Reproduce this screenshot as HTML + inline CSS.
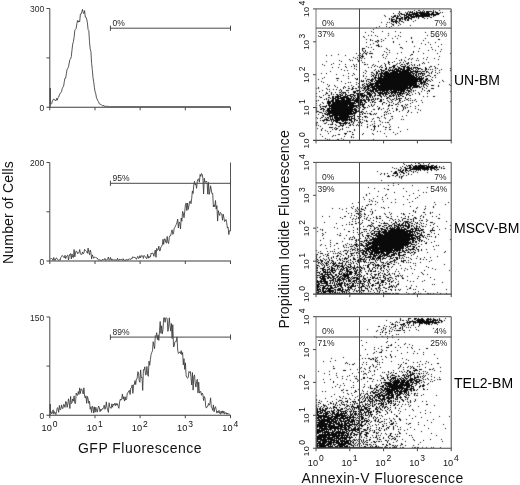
<!DOCTYPE html>
<html lang="en">
<head>
<meta charset="utf-8">
<title>GFP Fluorescence / Annexin-V Fluorescence</title>
<style>
html,body{margin:0;padding:0;background:#fff;}
body{width:520px;height:485px;overflow:hidden;}
svg{display:block;font-family:"Liberation Sans", Arial, Helvetica, sans-serif;}
.ax{stroke:#484848;stroke-width:1;fill:none;}
.axl{stroke:#777;stroke-width:1;fill:none;}
.cv{stroke:#383838;stroke-width:0.85;fill:none;stroke-linejoin:round;}
.gt{stroke:#484848;stroke-width:1;fill:none;}
.t9{font-size:8.5px;fill:#262626;}
.t8{font-size:8px;fill:#333;}
.tk{font-size:9.2px;fill:#111;}
.ts{font-size:8.5px;fill:#111;}
.big{font-size:14px;fill:#111;}
.lab{font-size:14px;fill:#000;}
.dots{stroke:#0a0a0a;stroke-width:1;fill:none;}
</style>
</head>
<body>
<svg width="520" height="485" viewBox="0 0 520 485">
<defs><filter id="soft" x="-2%" y="-2%" width="104%" height="104%" color-interpolation-filters="sRGB"><feConvolveMatrix order="3" kernelMatrix="0.017 0.088 0.017 0.088 0.58 0.088 0.017 0.088 0.017" divisor="1" edgeMode="none" preserveAlpha="false"/></filter></defs>
<rect width="520" height="485" fill="#fff"/>

<g id="hist1">
<path class="cv" d="M50.2 107.3L50.2 88L50.3 104L51 104.4L51.7 103.5L52.4 101.1L53.1 99.8L53.8 98.9L54.5 100L55.2 100.2L55.9 100.9L56.6 98.3L57.3 100.2L58 97.7L58.7 97.1L59.4 94.9L60.1 93.3L60.8 92.8L61.5 91.7L62.2 88.8L62.9 87.1L63.6 86.2L64.3 81.7L65 78L65.7 78L66.4 73.7L67.1 69.1L67.8 68.5L68.5 66.7L69.2 63L69.9 59.5L70.6 58.9L71.3 56.5L72 49.9L72.7 44.1L73.4 41.7L74.1 37.4L74.8 30.5L75.5 29.3L76.2 28.3L76.9 23.5L77.6 20.4L78.3 22.2L79 20.8L79.7 21.8L80.4 14.1L81.1 14.1L81.8 11.9L82.5 9.3L83.2 12.7L83.9 13.7L84.6 10.6L85.3 17.2L86 17.2L86.7 19.1L87.4 22.7L88.1 29.6L88.8 30.5L89.5 41.8L90.2 48.8L90.9 51.3L91.6 63.3L92.3 69.4L93 77.7L93.7 81.8L94.4 87.3L95.1 91.9L95.8 93.9L96.5 97.9L97.2 99.2L97.9 101L98.6 101.7L99.3 103.8L100 104.3L100.7 104.3L101.4 105L102.1 105.6L102.8 106.1L103.5 105L104.2 106.3L104.9 106.3L105.6 106.3L106.3 106.2L107 106.6L107.7 106.3L108.4 106.6L109.1 106.6L109.8 106.6L110.5 106.6L111.2 106.6L111.9 106.6L112.6 106.6L113.3 106.6L114 106.6L114.7 106.6L115.4 106.6L116.1 106.6L116.8 106.6L117.5 106.6L118.2 106.6L118.9 106.6L119.6 106.6L120.3 106.6L121 106.6L121.7 106.6L122.4 106.6L123.1 106.6L123.8 106.6L124.5 106.6L125.2 106.6L125.9 106.6L126.6 106.6L127.3 106.6L128 106.6L128.7 106.6L129.4 106.6L130.1 106.6L130.8 106.6L131.5 106.6L132.2 106.6L132.9 106.6L133.6 106.6L134.3 106.6L135 106.6L135.7 106.6L136.4 106.6L137.1 106.6L137.8 106.6L138.5 106.6L139.2 106.6L139.9 106.6L140.6 106.6L141.3 106.6L142 106.6L142.7 106.6L143.4 106.6L144.1 106.6L144.8 106.6L145.5 106.6L146.2 106.6L146.9 106.6L147.6 106.6L148.3 106.6L149 106.6L149.7 106.6L150.4 106.6L151.1 106.6L151.8 106.6L152.5 106.6L153.2 106.6L153.9 106.6L154.6 106.6L155.3 106.6L156 106.6L156.7 106.6L157.4 106.6L158.1 106.6L158.8 106.6L159.5 106.6L160.2 106.6L160.9 106.6L161.6 106.6L162.3 106.6L163 106.6L163.7 106.6L164.4 106.6L165.1 106.6L165.8 106.6L166.5 106.6L167.2 106.6L167.9 106.6L168.6 106.6L169.3 106.6L170 106.6L170.7 106.6L171.4 106.6L172.1 106.6L172.8 106.6L173.5 106.6L174.2 106.6L174.9 106.6L175.6 106.6L176.3 106.6L177 106.6L177.7 106.6L178.4 106.6L179.1 106.6L179.8 106.6L180.5 106.6L181.2 106.6L181.9 106.6L182.6 106.6L183.3 106.6L184 106.6L184.7 106.6L185.4 106.6L186.1 106.6L186.8 106.6L187.5 106.6L188.2 106.6L188.9 106.6L189.6 106.6L190.3 106.6L191 106.6L191.7 106.6L192.4 106.6L193.1 106.6L193.8 106.6L194.5 106.6L195.2 106.6L195.9 106.6L196.6 106.6L197.3 106.6L198 106.6L198.7 106.6L199.4 106.6L200.1 106.6L200.8 106.6L201.5 106.6L202.2 106.6L202.9 106.6L203.6 106.6L204.3 106.6L205 106.6L205.7 106.6L206.4 106.6L207.1 106.6L207.8 106.6L208.5 106.6L209.2 106.6L209.9 106.6L210.6 106.6L211.3 106.6L212 106.6L212.7 106.6L213.4 106.6L214.1 106.6L214.8 106.6L215.5 106.6L216.2 106.6L216.9 106.6L217.6 106.6L218.3 106.6L219 106.6L219.7 106.6L220.4 106.6L221.1 106.6L221.8 106.6L222.5 106.6L223.2 106.6L223.9 106.6L224.6 106.6L225.3 106.6L226 106.6L226.7 106.6L227.4 106.6L228.1 106.6L228.8 106.6L229.5 106.6L230.2 106.6"/>
<path class="ax" d="M46.5 8.5H49.8V107.3M46.5 57.9H49.8"/>
<path d="M46.5 107.3H231" stroke="#3c3c3c" stroke-width="1.05" fill="none"/>
<path class="ax" d="M49.8 107.3v3M95 107.3v3M140.1 107.3v3M185.3 107.3v3M230.5 107.3v3"/>
<text class="t9" x="44.3" y="12.1" text-anchor="end">300</text>
<text class="t9" x="44.3" y="110.9" text-anchor="end">0</text>
<path class="gt" d="M110.4 28.2H230.5M110.4 25.6v5.2M230.5 25.6v5.2"/>
<text class="t9" x="112.6" y="25.6">0%</text>
</g>
<g id="hist2">
<path class="cv" d="M50.3 258.8L51 258.8L51.7 258.5L52.4 258.9L53.1 260.3L53.8 257.5L54.5 260.2L55.2 260.3L55.9 258.4L56.6 257.9L57.3 259.3L58 260.1L58.7 260.3L59.4 259.6L60.1 260.3L60.8 257.5L61.5 256.8L62.2 255.4L62.9 256.1L63.6 257.1L64.3 257.9L65 255.3L65.7 258.6L66.4 256.8L67.1 255.6L67.8 255.1L68.5 260L69.2 256.3L69.9 254.1L70.6 253.7L71.3 258.9L72 253.9L72.7 257.2L73.4 257.5L74.1 249.5L74.8 256.9L75.5 253.2L76.2 250.9L76.9 251.7L77.6 253.8L78.3 252.9L79 252.7L79.7 249.5L80.4 254L81.1 254.1L81.8 254.6L82.5 252L83.2 253.8L83.9 253.2L84.6 249.3L85.3 250.3L86 251L86.7 251.7L87.4 253.3L88.1 248.1L88.8 252.2L89.5 254.7L90.2 250L90.9 252.3L91.6 258.9L92.3 254.8L93 256.5L93.7 258.3L94.4 257.2L95.1 256.9L95.8 257.6L96.5 257.9L97.2 258L97.9 259.1L98.6 260.3L99.3 259.7L100 260.3L100.7 260.2L101.4 260.3L102.1 260.1L102.8 259.2L103.5 259.9L104.2 259.8L104.9 258.4L105.6 260.3L106.3 260.1L107 259.9L107.7 259L108.4 257L109.1 260.3L109.8 259.5L110.5 257.4L111.2 260.2L111.9 258.9L112.6 260.2L113.3 259.5L114 260.3L114.7 259.8L115.4 259.8L116.1 259.7L116.8 260.3L117.5 258.3L118.2 260.3L118.9 260.3L119.6 259.1L120.3 259.6L121 259.1L121.7 259.6L122.4 260.3L123.1 258.7L123.8 260.1L124.5 260.3L125.2 260L125.9 260.3L126.6 259.1L127.3 259.9L128 260.3L128.7 259.1L129.4 258.9L130.1 259L130.8 259.6L131.5 258.2L132.2 258.6L132.9 256.7L133.6 257.5L134.3 257.5L135 257.2L135.7 258L136.4 259.3L137.1 257.8L137.8 256.3L138.5 258.4L139.2 258.1L139.9 255.6L140.6 257.8L141.3 255.7L142 256.2L142.7 255.9L143.4 258.4L144.1 255.4L144.8 256.2L145.5 256.9L146.2 258.3L146.9 258.5L147.6 254.3L148.3 258.2L149 256.2L149.7 257.6L150.4 256.9L151.1 253.2L151.8 254L152.5 252.8L153.2 253.8L153.9 256.3L154.6 252.2L155.3 250.1L156 257.3L156.7 248.4L157.4 250.3L158.1 249.9L158.8 246.1L159.5 250.8L160.2 250.8L160.9 246.9L161.6 246.4L162.3 244.9L163 239.3L163.7 244.4L164.4 238.9L165.1 238.9L165.8 242.3L166.5 243.2L167.2 236.4L167.9 242.2L168.6 243.6L169.3 237.3L170 235.5L170.7 235.6L171.4 232.4L172.1 229.8L172.8 234.4L173.5 233.7L174.2 228.1L174.9 227.5L175.6 225.7L176.3 224.4L177 222.3L177.7 219.1L178.4 228L179.1 221.9L179.8 222.7L180.5 229L181.2 218L181.9 221.3L182.6 211.4L183.3 213.2L184 217.8L184.7 212L185.4 205.1L186.1 203.1L186.8 210.6L187.5 203L188.2 209.5L188.9 206.1L189.6 201.5L190.3 201.1L191 203.7L191.7 198.3L192.4 190.9L193.1 193.5L193.8 184.6L194.5 181.4L195.2 185L195.9 184.1L196.6 188.3L197.3 181.2L198 179.1L198.7 178.9L199.4 182.2L200.1 174.4L200.8 176.4L201.5 173.5L202.2 174.3L202.9 178.3L203.6 194L204.3 178.2L205 182.5L205.7 182L206.4 181L207.1 182.7L207.8 194.2L208.5 182.4L209.2 194.4L209.9 191.3L210.6 185.8L211.3 190L212 193.9L212.7 193.4L213.4 206.9L214.1 204.8L214.8 206.7L215.5 200.5L216.2 209.1L216.9 205.7L217.6 221.1L218.3 210.6L219 213.7L219.7 215.5L220.4 212.4L221.1 213.5L221.8 214.2L222.5 220.3L223.2 214.1L223.9 217.7L224.6 221.6L225.3 220.9L226 219.5L226.7 222.8L227.4 228.1L228.1 227.2L228.8 234.6L229.5 230.7L230.5 231L230.5 162.5"/>
<path class="ax" d="M46.5 162.5H49.8V261M46.5 211.8H49.8"/>
<path d="M46.5 261H231" stroke="#3c3c3c" stroke-width="1.05" fill="none"/>
<path class="ax" d="M49.8 261v3M95 261v3M140.1 261v3M185.3 261v3M230.5 261v3"/>
<text class="t9" x="44.3" y="166.1" text-anchor="end">200</text>
<text class="t9" x="44.3" y="264.6" text-anchor="end">0</text>
<path class="gt" d="M110.4 183.3H230.5M110.4 180.7v5.2M230.5 180.7v5.2"/>
<text class="t9" x="112.6" y="180.7">95%</text>
</g>
<g id="hist3">
<path class="cv" d="M50.2 415.2L50.2 404L50.3 413L51 411.6L51.7 413.8L52.4 412.9L53.1 409.8L53.8 414.1L54.5 411.6L55.2 412.8L55.9 414.5L56.6 411.4L57.3 407.7L58 408.3L58.7 412.3L59.4 405.5L60.1 409.6L60.8 409.5L61.5 404.9L62.2 408L62.9 408.7L63.6 404.4L64.3 404.8L65 407.4L65.7 401.4L66.4 402.2L67.1 407.3L67.8 404.1L68.5 398.8L69.2 402.7L69.9 408.5L70.6 396.4L71.3 403.6L72 402.8L72.7 398.9L73.4 401.1L74.1 395.9L74.8 403.3L75.5 403.4L76.2 393.1L76.9 394.9L77.6 395.3L78.3 391.5L79 394.4L79.7 387.9L80.4 393.5L81.1 389L81.8 389.2L82.5 391.4L83.2 394L83.9 387.8L84.6 396.3L85.3 398.1L86 395.8L86.7 403.3L87.4 396.5L88.1 398.8L88.8 403.3L89.5 401.3L90.2 409.2L90.9 406.9L91.6 412.5L92.3 406.1L93 407.1L93.7 413.1L94.4 406.9L95.1 412.2L95.8 407.3L96.5 410L97.2 412.2L97.9 408.9L98.6 406L99.3 407.6L100 411.8L100.7 409.2L101.4 410.5L102.1 408.7L102.8 409.1L103.5 407.6L104.2 405.2L104.9 409.3L105.6 408.1L106.3 401.9L107 407.3L107.7 409.9L108.4 412.4L109.1 402.8L109.8 406.9L110.5 408L111.2 408.3L111.9 403.8L112.6 407.2L113.3 404.2L114 405.1L114.7 403.3L115.4 405.7L116.1 403.3L116.8 405.2L117.5 403.7L118.2 406.4L118.9 408.3L119.6 402L120.3 399.2L121 400.2L121.7 398.5L122.4 394L123.1 399.2L123.8 396.7L124.5 401.1L125.2 396.8L125.9 400.1L126.6 398.8L127.3 393.2L128 392.8L128.7 391.1L129.4 390.3L130.1 394.5L130.8 388.1L131.5 387.5L132.2 384.9L132.9 393.3L133.6 384.8L134.3 384.7L135 380.6L135.7 384.6L136.4 379.1L137.1 378.8L137.8 371.7L138.5 372.6L139.2 380.4L139.9 382.3L140.6 369.9L141.3 377.9L142 377.2L142.7 390.4L143.4 369.7L144.1 370.1L144.8 366.8L145.5 374.9L146.2 374.7L146.9 366.5L147.6 374.5L148.3 376.3L149 361.2L149.7 365.3L150.4 359.3L151.1 354.4L151.8 352.4L152.5 350.8L153.2 341.7L153.9 345.9L154.6 348.7L155.3 335.7L156 336.6L156.7 332.7L157.4 339.6L158.1 335.1L158.8 340.4L159.5 330.8L160.2 321.5L160.9 333.3L161.6 325.8L162.3 333.8L163 329.3L163.7 317.8L164.4 317.8L165.1 322.3L165.8 317.8L166.5 317.8L167.2 318.7L167.9 331.4L168.6 327.2L169.3 317.8L170 325.6L170.7 331.1L171.4 323.5L172.1 338.5L172.8 324.7L173.5 347L174.2 346.2L174.9 341.8L175.6 341.3L176.3 341.5L177 336.9L177.7 350.1L178.4 353.5L179.1 352.5L179.8 352L180.5 353.7L181.2 350.6L181.9 354.8L182.6 352.5L183.3 364.8L184 358.7L184.7 369.4L185.4 362.8L186.1 375.2L186.8 377.2L187.5 378.3L188.2 377.7L188.9 371.6L189.6 372.6L190.3 371.5L191 377.6L191.7 385L192.4 372.5L193.1 390.1L193.8 376.8L194.5 374.9L195.2 382.8L195.9 387.1L196.6 381.4L197.3 379.3L198 392.9L198.7 382.1L199.4 393.1L200.1 391.6L200.8 391.6L201.5 395.3L202.2 393L202.9 394.4L203.6 400.5L204.3 396.5L205 398.2L205.7 406.3L206.4 408.1L207.1 406.5L207.8 406.4L208.5 403.5L209.2 405.2L209.9 403.3L210.6 397.8L211.3 407.2L212 407.8L212.7 410.4L213.4 404.9L214.1 411.8L214.8 407.9L215.5 406.7L216.2 409.7L216.9 413.1L217.6 411.3L218.3 412.7L219 410.4L219.7 413.2L220.4 414.2L221.1 411.1L221.8 413.4L222.5 410.8L223.2 413.4L223.9 411.1L224.6 413.9L225.3 413.5L226 412.4L226.7 414.3L227.4 413L228.1 414.3L228.8 413.6L229.5 414.5"/>
<path class="ax" d="M46.5 317H49.8V415.2M46.5 366.1H49.8"/>
<path d="M46.5 415.2H231" stroke="#3c3c3c" stroke-width="1.05" fill="none"/>
<path class="ax" d="M49.8 415.2v3M95 415.2v3M140.1 415.2v3M185.3 415.2v3M230.5 415.2v3"/>
<text class="t9" x="44.3" y="320.6" text-anchor="end">150</text>
<text class="t9" x="44.3" y="418.8" text-anchor="end">0</text>
<path class="gt" d="M110.4 337.1H230.5M110.4 334.5v5.2M230.5 334.5v5.2"/>
<text class="t9" x="112.6" y="334.5">89%</text>
</g>
<text class="tk" x="51.8" y="431.3" text-anchor="end">10</text>
<text class="ts" x="52.7" y="426.6">0</text>
<text class="tk" x="97" y="431.3" text-anchor="end">10</text>
<text class="ts" x="97.9" y="426.6">1</text>
<text class="tk" x="142.1" y="431.3" text-anchor="end">10</text>
<text class="ts" x="143" y="426.6">2</text>
<text class="tk" x="187.3" y="431.3" text-anchor="end">10</text>
<text class="ts" x="188.2" y="426.6">3</text>
<text class="tk" x="232.5" y="431.3" text-anchor="end">10</text>
<text class="ts" x="233.4" y="426.6">4</text>
<text class="big" x="78" y="453.3" textLength="123.6" lengthAdjust="spacing">GFP Fluorescence</text>
<text class="big" transform="translate(12.6 263.9) rotate(-90)" textLength="102.6" lengthAdjust="spacing">Number of Cells</text>
<g id="scat1">
<path class="dots" filter="url(#soft)" transform="translate(0 0.5)" d="M414 10h1M418 10h2M423 10h1M433 10h1M439 10h1M399 11h1M408 11h1M410 11h1M412 11h1M416 11h1M420 11h1M422 11h1M424 11h1M426 11h6M433 11h1M435 11h1M450 11h1M399 12h1M405 12h1M407 12h1M409 12h4M414 12h1M416 12h9M426 12h3M432 12h2M435 12h3M440 12h1M442 12h1M393 13h1M398 13h1M400 13h2M406 13h2M409 13h1M412 13h6M419 13h11M431 13h3M436 13h4M399 14h1M401 14h4M406 14h13M420 14h19M384 15h1M394 15h2M397 15h1M399 15h1M404 15h3M408 15h4M413 15h1M415 15h15M431 15h1M433 15h3M385 16h1M391 16h1M393 16h3M397 16h2M400 16h1M404 16h1M406 16h3M410 16h20M433 16h1M443 16h1M392 17h2M396 17h2M401 17h2M404 17h6M411 17h4M416 17h1M418 17h1M422 17h2M430 17h2M389 18h1M391 18h1M396 18h7M404 18h3M408 18h4M418 18h1M424 18h1M427 18h1M389 19h1M391 19h4M396 19h1M399 19h2M402 19h1M404 19h2M407 19h2M411 19h1M391 20h2M395 20h2M399 20h2M405 20h1M407 20h2M415 20h1M391 21h7M399 21h1M401 21h2M413 21h1M381 22h1M387 22h1M389 22h1M393 22h1M395 22h2M398 22h1M403 22h1M391 23h1M396 23h1M399 23h1M386 24h1M392 24h2M400 24h1M393 25h1M398 25h1M410 25h1M379 26h1M386 26h1M391 26h1M376 27h1M389 27h1M373 29h1M371 31h1M382 31h1M395 31h1M365 32h1M373 32h1M400 32h1M425 32h1M388 33h1M368 35h1M371 35h1M375 35h1M388 35h1M398 35h1M427 35h1M363 36h1M377 36h1M395 36h1M400 36h1M436 36h1M364 37h1M411 37h1M385 38h1M392 38h1M397 38h1M411 38h1M425 38h1M366 39h1M370 39h1M381 39h1M438 39h2M370 40h1M372 40h1M377 40h2M383 40h1M423 40h1M375 41h2M378 41h1M381 41h1M393 41h1M406 41h1M412 41h1M366 42h1M377 42h1M393 42h1M412 42h1M428 42h1M435 42h1M373 43h1M421 43h1M370 44h1M378 44h1M399 44h1M425 44h1M430 44h1M441 44h1M376 45h3M366 46h1M378 46h2M381 46h1M414 46h1M438 46h1M368 47h1M371 47h1M400 47h2M431 47h1M362 48h3M386 48h1M402 48h1M419 48h1M362 49h1M373 49h1M387 49h1M432 49h1M441 49h1M362 50h1M365 50h1M389 50h1M428 50h1M435 50h1M363 51h1M365 51h1M370 51h1M384 51h1M413 51h1M418 51h1M440 51h1M364 52h1M367 52h1M386 52h1M389 52h1M401 52h1M413 52h1M356 53h1M360 53h1M363 53h1M365 53h2M369 53h4M397 53h1M423 53h1M437 53h1M450 53h1M338 54h1M362 54h1M366 54h1M383 54h1M387 54h1M411 54h2M326 55h1M331 55h1M345 55h1M358 55h1M360 55h1M362 55h1M382 55h1M410 55h1M361 56h3M371 56h1M386 56h1M439 56h1M353 57h1M357 57h1M359 57h2M362 57h1M371 57h1M383 57h1M405 57h1M427 57h1M355 58h1M359 58h1M361 58h1M364 58h1M385 58h1M396 58h1M409 58h1M412 58h1M417 58h1M423 58h1M434 58h1M349 59h1M357 59h1M401 59h1M408 59h1M411 59h1M426 59h1M438 59h1M339 60h1M350 60h1M352 60h1M358 60h2M361 60h1M399 60h1M401 60h1M404 60h1M416 60h1M418 60h1M326 61h1M341 61h1M358 61h1M378 61h1M388 61h1M394 61h1M405 61h1M362 62h1M364 62h1M388 62h2M392 62h1M400 62h1M403 62h1M408 62h1M411 62h1M423 62h1M428 62h1M333 63h1M384 63h1M388 63h1M397 63h1M399 63h1M406 63h3M422 63h1M424 63h1M322 64h1M331 64h1M339 64h1M345 64h1M353 64h1M356 64h1M364 64h2M367 64h1M373 64h1M385 64h1M389 64h1M396 64h1M401 64h2M404 64h1M407 64h1M411 64h1M414 64h1M419 64h1M438 64h1M324 65h1M354 65h1M372 65h1M375 65h1M381 65h1M385 65h1M393 65h3M400 65h1M405 65h1M409 65h1M412 65h1M414 65h1M417 65h1M419 65h1M345 66h1M351 66h1M354 66h1M356 66h1M374 66h1M377 66h1M380 66h1M385 66h1M392 66h3M397 66h1M401 66h5M407 66h2M430 66h2M434 66h1M332 67h1M338 67h1M346 67h1M368 67h1M371 67h1M379 67h1M381 67h2M386 67h1M389 67h3M393 67h2M398 67h2M403 67h2M406 67h4M411 67h1M413 67h5M425 67h1M429 67h1M435 67h1M354 68h1M385 68h2M389 68h1M393 68h1M395 68h2M398 68h4M403 68h2M407 68h5M413 68h1M415 68h1M417 68h4M425 68h2M435 68h1M437 68h1M450 68h1M341 69h1M356 69h1M375 69h1M380 69h2M385 69h2M388 69h1M390 69h1M392 69h1M394 69h5M400 69h5M406 69h4M411 69h2M416 69h1M418 69h1M421 69h2M425 69h2M428 69h1M430 69h1M432 69h1M441 69h1M344 70h1M347 70h1M365 70h1M374 70h1M378 70h1M381 70h4M388 70h7M396 70h5M402 70h9M413 70h1M415 70h1M417 70h1M425 70h1M435 70h1M439 70h1M450 70h1M330 71h1M366 71h1M376 71h1M378 71h2M381 71h1M383 71h1M385 71h3M389 71h1M392 71h17M410 71h11M422 71h3M426 71h2M432 71h1M363 72h1M371 72h2M376 72h2M381 72h2M384 72h5M390 72h8M399 72h14M415 72h3M421 72h1M426 72h1M428 72h1M431 72h1M435 72h1M439 72h1M321 73h1M326 73h1M348 73h1M353 73h1M365 73h1M373 73h1M376 73h2M379 73h32M412 73h3M416 73h1M418 73h7M429 73h1M431 73h1M437 73h1M336 74h1M354 74h1M371 74h1M374 74h1M376 74h1M378 74h1M380 74h2M383 74h29M413 74h1M415 74h2M418 74h1M420 74h1M422 74h1M424 74h1M343 75h1M352 75h1M363 75h1M372 75h2M375 75h2M378 75h1M380 75h3M384 75h30M415 75h2M418 75h1M422 75h2M427 75h3M434 75h2M348 76h1M363 76h1M366 76h1M371 76h1M373 76h1M375 76h1M378 76h1M380 76h35M416 76h2M419 76h3M425 76h2M430 76h1M324 77h1M374 77h3M378 77h4M383 77h34M418 77h2M421 77h1M423 77h1M432 77h1M435 77h1M322 78h1M336 78h3M348 78h1M355 78h1M357 78h1M365 78h1M372 78h1M374 78h2M377 78h47M426 78h2M318 79h1M356 79h2M367 79h3M371 79h3M375 79h1M378 79h45M425 79h3M431 79h1M337 80h1M361 80h1M363 80h1M366 80h1M370 80h3M375 80h43M419 80h3M423 80h1M425 80h2M428 80h2M432 80h1M442 80h1M321 81h1M341 81h1M359 81h1M361 81h3M366 81h1M368 81h1M371 81h2M374 81h1M376 81h46M423 81h3M427 81h1M430 81h1M443 81h1M323 82h1M348 82h1M350 82h1M356 82h1M369 82h2M375 82h42M420 82h6M439 82h1M345 83h1M358 83h1M364 83h1M366 83h1M368 83h1M370 83h47M418 83h1M420 83h3M424 83h1M426 83h2M327 84h1M356 84h1M362 84h2M366 84h2M369 84h5M375 84h4M380 84h37M419 84h1M421 84h1M423 84h3M428 84h1M449 84h1M329 85h1M334 85h1M351 85h1M359 85h1M362 85h1M364 85h1M367 85h6M374 85h45M423 85h1M426 85h1M431 85h3M438 85h1M450 85h1M328 86h1M335 86h1M344 86h1M348 86h1M353 86h1M358 86h1M363 86h1M365 86h5M371 86h37M409 86h3M413 86h7M421 86h1M423 86h1M427 86h1M438 86h1M318 87h1M337 87h1M343 87h1M345 87h1M352 87h1M358 87h1M360 87h1M362 87h1M364 87h2M367 87h2M370 87h5M376 87h35M412 87h6M419 87h2M424 87h1M316 88h1M318 88h1M326 88h1M343 88h1M348 88h2M352 88h2M355 88h2M361 88h1M363 88h3M367 88h3M372 88h39M412 88h1M422 88h1M426 88h1M431 88h3M327 89h1M329 89h1M333 89h1M336 89h1M340 89h1M351 89h2M359 89h1M364 89h1M366 89h3M370 89h1M372 89h5M378 89h28M407 89h1M410 89h2M422 89h1M322 90h1M339 90h1M341 90h1M346 90h3M356 90h4M362 90h2M365 90h2M368 90h6M375 90h14M390 90h2M393 90h12M406 90h4M411 90h1M413 90h1M415 90h1M424 90h1M428 90h2M319 91h1M329 91h1M341 91h1M353 91h3M357 91h1M359 91h2M365 91h1M367 91h1M370 91h4M375 91h3M380 91h1M382 91h3M386 91h2M389 91h1M391 91h6M398 91h1M400 91h5M408 91h3M413 91h1M421 91h1M427 91h1M429 91h1M450 91h1M326 92h1M331 92h1M335 92h1M339 92h2M342 92h4M348 92h1M353 92h3M359 92h1M364 92h1M366 92h4M371 92h1M373 92h2M377 92h6M384 92h5M390 92h12M403 92h1M405 92h2M408 92h1M411 92h1M418 92h1M316 93h1M326 93h2M331 93h1M341 93h1M343 93h1M345 93h1M354 93h1M356 93h8M367 93h4M372 93h1M374 93h2M378 93h9M388 93h2M391 93h2M394 93h2M397 93h1M399 93h6M407 93h1M409 93h1M415 93h1M419 93h1M427 93h1M325 94h1M331 94h1M333 94h1M336 94h2M339 94h2M342 94h1M345 94h2M350 94h4M357 94h6M364 94h1M367 94h5M375 94h1M379 94h2M382 94h2M385 94h3M391 94h1M393 94h1M395 94h1M397 94h4M402 94h1M406 94h3M412 94h1M419 94h1M323 95h1M328 95h2M337 95h2M340 95h3M345 95h1M347 95h4M353 95h3M357 95h2M360 95h7M369 95h3M374 95h2M377 95h4M383 95h1M385 95h1M389 95h2M392 95h3M396 95h1M398 95h1M400 95h2M406 95h1M409 95h2M316 96h1M319 96h1M332 96h2M335 96h6M343 96h5M350 96h3M354 96h1M357 96h3M361 96h4M366 96h2M369 96h2M372 96h1M374 96h1M380 96h2M384 96h1M386 96h1M389 96h3M393 96h1M396 96h1M398 96h2M402 96h2M423 96h1M427 96h1M433 96h2M320 97h2M328 97h2M332 97h2M335 97h4M340 97h9M351 97h1M353 97h1M355 97h1M357 97h3M361 97h1M363 97h1M366 97h3M370 97h1M372 97h1M381 97h1M387 97h2M396 97h1M405 97h1M326 98h1M330 98h1M332 98h4M337 98h8M346 98h6M353 98h2M356 98h4M362 98h1M366 98h1M368 98h1M373 98h1M375 98h1M377 98h2M386 98h2M389 98h1M394 98h1M396 98h1M398 98h4M405 98h1M408 98h1M410 98h1M324 99h1M326 99h1M328 99h1M332 99h2M335 99h4M341 99h4M346 99h5M352 99h2M355 99h4M360 99h2M363 99h2M366 99h4M371 99h3M375 99h1M377 99h1M380 99h2M383 99h1M390 99h1M392 99h2M396 99h2M399 99h1M406 99h2M415 99h1M316 100h1M318 100h1M328 100h1M331 100h3M335 100h31M368 100h2M371 100h1M374 100h1M380 100h2M387 100h1M391 100h1M395 100h1M399 100h2M404 100h1M408 100h1M410 100h1M412 100h1M414 100h1M421 100h1M316 101h1M327 101h7M335 101h16M354 101h5M360 101h2M364 101h2M368 101h1M372 101h2M379 101h3M388 101h1M392 101h1M399 101h1M402 101h1M416 101h1M450 101h1M322 102h1M327 102h4M332 102h23M356 102h7M365 102h2M370 102h1M372 102h1M374 102h2M383 102h2M389 102h1M391 102h1M398 102h1M400 102h1M412 102h1M422 102h1M316 103h1M323 103h1M327 103h4M332 103h24M358 103h3M362 103h1M364 103h1M382 103h1M386 103h1M393 103h1M397 103h1M410 103h1M320 104h1M328 104h2M331 104h23M358 104h7M371 104h1M374 104h1M382 104h1M389 104h1M395 104h2M398 104h1M405 104h1M407 104h1M316 105h1M319 105h1M326 105h1M328 105h20M349 105h10M360 105h1M362 105h2M368 105h1M371 105h1M373 105h1M388 105h2M391 105h2M401 105h2M406 105h1M418 105h1M320 106h1M322 106h5M329 106h28M358 106h2M362 106h2M369 106h1M372 106h1M377 106h1M388 106h1M397 106h1M402 106h1M404 106h1M410 106h1M415 106h1M316 107h1M320 107h1M325 107h1M329 107h1M331 107h23M356 107h2M360 107h1M363 107h3M367 107h1M379 107h1M403 107h1M405 107h1M407 107h1M316 108h1M321 108h3M327 108h26M354 108h2M358 108h1M364 108h1M378 108h2M383 108h1M388 108h1M392 108h1M396 108h1M403 108h1M405 108h1M415 108h1M316 109h1M320 109h2M323 109h2M327 109h3M331 109h26M359 109h1M362 109h2M373 109h2M378 109h1M381 109h1M387 109h1M396 109h2M403 109h1M418 109h1M316 110h1M323 110h1M326 110h27M354 110h3M358 110h1M389 110h1M396 110h1M402 110h1M408 110h1M420 110h1M316 111h3M323 111h1M325 111h1M327 111h27M355 111h5M361 111h2M366 111h1M371 111h1M385 111h1M387 111h1M393 111h1M399 111h1M408 111h1M316 112h1M319 112h3M326 112h1M328 112h24M353 112h4M360 112h2M363 112h1M384 112h1M386 112h1M407 112h1M411 112h1M417 112h1M322 113h1M324 113h2M327 113h29M362 113h1M364 113h2M367 113h1M369 113h2M374 113h1M376 113h1M388 113h1M390 113h1M318 114h1M325 114h5M332 114h21M354 114h1M360 114h1M362 114h1M370 114h2M373 114h1M375 114h1M384 114h1M386 114h1M322 115h2M327 115h1M329 115h20M353 115h2M384 115h1M406 115h1M323 116h1M329 116h4M334 116h4M339 116h14M354 116h1M357 116h4M364 116h3M381 116h1M391 116h2M402 116h1M316 117h1M321 117h2M325 117h1M327 117h2M330 117h1M332 117h1M334 117h16M351 117h1M354 117h1M362 117h1M365 117h1M367 117h1M377 117h2M384 117h1M317 118h1M320 118h1M326 118h1M328 118h1M330 118h1M332 118h1M334 118h14M349 118h1M351 118h4M358 118h1M373 118h1M379 118h1M385 118h1M392 118h1M324 119h4M330 119h4M335 119h17M354 119h2M360 119h1M362 119h1M372 119h1M390 119h1M401 119h1M403 119h1M320 120h1M322 120h3M326 120h4M331 120h1M333 120h7M341 120h7M349 120h3M354 120h1M356 120h2M364 120h1M366 120h1M379 120h1M389 120h1M323 121h1M331 121h1M333 121h1M335 121h3M342 121h2M345 121h1M351 121h2M354 121h1M360 121h1M366 121h2M371 121h1M374 121h1M380 121h1M316 122h2M326 122h1M332 122h1M336 122h5M344 122h4M349 122h1M351 122h1M353 122h1M358 122h3M362 122h1M382 122h1M385 122h1M387 122h2M316 123h1M324 123h2M332 123h1M339 123h8M348 123h2M353 123h1M361 123h1M374 123h1M316 124h1M328 124h1M330 124h3M335 124h1M340 124h1M343 124h1M345 124h1M350 124h1M352 124h1M357 124h1M367 124h1M372 124h1M380 124h1M389 124h1M316 125h1M318 125h1M336 125h1M340 125h4M349 125h2M353 125h1M356 125h1M358 125h1M361 125h1M370 125h1M374 125h1M378 125h1M320 126h1M338 126h2M342 126h1M359 126h1M367 126h1M373 126h3M378 126h1M383 126h1M390 126h1M329 127h4M335 127h1M346 127h1M348 127h1M367 127h1M374 127h1M385 127h2M389 127h1M398 127h1M317 128h1M322 128h1M334 128h1M336 128h2M342 128h1M374 128h1M321 129h1M332 129h1M335 129h2M340 129h1M342 129h1M354 129h1M371 129h1M374 129h1M385 129h1M389 129h2M407 129h1M321 130h1M325 130h1M339 130h1M354 130h1M373 130h1M327 131h1M330 131h1M347 131h1M349 131h2M377 131h1M380 131h1M400 131h1M352 132h1M393 132h1M328 133h1M344 133h3M363 133h1M372 133h1M384 133h1M397 133h1M320 134h1M338 134h2M345 134h1M352 134h2M362 134h1M373 134h1M395 134h1M333 135h1M335 135h1M322 136h1M332 136h1M344 136h1M351 136h1M386 136h1M351 137h1M353 137h1M325 138h1M341 138h1M327 139h1M329 139h1M337 139h2M343 139h1M373 139h1"/>
<path class="axl" d="M316 140.4V8.9"/>
<path class="ax" d="M313 8.9H451.2V140.4"/>
<path d="M313 140.4H451.7" stroke="#444" stroke-width="1.1" fill="none"/>
<path class="gt" d="M316 28.1H451.2M359.5 8.9V140.4"/>
<path class="ax" d="M316 140.4v3M349.8 140.4v3M383.6 140.4v3M417.4 140.4v3M451.2 140.4v3M313 41.8h3M313 74.7h3M313 107.5h3"/>
<g transform="translate(309.2 140.4) rotate(-90) scale(1 0.88)"><text class="tk" x="2.0" y="0" text-anchor="end">10</text><text class="ts" x="3.4" y="-4.4" transform="scale(1 1.12)">0</text></g>
<g transform="translate(309.2 107.5) rotate(-90) scale(1 0.88)"><text class="tk" x="2.0" y="0" text-anchor="end">10</text><text class="ts" x="3.4" y="-4.4" transform="scale(1 1.12)">1</text></g>
<g transform="translate(309.2 74.7) rotate(-90) scale(1 0.88)"><text class="tk" x="2.0" y="0" text-anchor="end">10</text><text class="ts" x="3.4" y="-4.4" transform="scale(1 1.12)">2</text></g>
<g transform="translate(309.2 41.8) rotate(-90) scale(1 0.88)"><text class="tk" x="2.0" y="0" text-anchor="end">10</text><text class="ts" x="3.4" y="-4.4" transform="scale(1 1.12)">3</text></g>
<g transform="translate(309.2 8.9) rotate(-90) scale(1 0.88)"><text class="tk" x="2.0" y="0" text-anchor="end">10</text><text class="ts" x="3.4" y="-4.4" transform="scale(1 1.12)">4</text></g>
<text class="t9" x="334.3" y="25.5" text-anchor="end">0%</text>
<text class="t9" x="446.6" y="25.5" text-anchor="end">7%</text>
<text class="t9" x="317.6" y="37.1">37%</text>
<text class="t9" x="447.2" y="37.1" text-anchor="end">56%</text>
<text class="lab" x="454" y="84.9">UN-BM</text>
</g>
<g id="scat2">
<path class="dots" filter="url(#soft)" transform="translate(0 0.5)" d="M403 163h1M415 163h1M418 163h2M423 163h1M429 163h1M404 164h1M411 164h1M420 164h1M428 164h1M406 165h1M408 165h3M412 165h1M415 165h2M418 165h9M428 165h1M431 165h3M436 165h1M402 166h1M407 166h1M409 166h2M413 166h12M426 166h7M434 166h3M439 166h1M443 166h1M392 167h1M400 167h1M404 167h2M409 167h3M413 167h25M439 167h1M441 167h1M394 168h1M396 168h1M401 168h1M405 168h6M412 168h17M430 168h5M436 168h1M441 168h1M443 168h2M398 169h1M400 169h1M403 169h1M405 169h2M410 169h11M422 169h7M430 169h2M434 169h2M437 169h2M398 170h3M402 170h2M405 170h3M409 170h2M416 170h1M418 170h1M420 170h1M424 170h1M427 170h1M431 170h1M436 170h1M377 171h1M391 171h1M395 171h2M400 171h3M405 171h1M408 171h1M411 171h1M413 171h1M415 171h1M394 172h3M399 172h1M401 172h3M406 172h1M413 172h1M417 172h1M427 172h1M381 173h1M384 173h1M387 173h1M393 173h5M403 173h2M408 173h1M380 174h1M384 174h1M397 174h1M400 174h1M408 174h1M411 174h1M388 175h1M392 175h2M396 175h2M403 175h1M406 175h1M387 176h3M395 176h1M399 176h1M401 176h2M399 177h1M401 177h1M401 178h1M381 180h1M393 183h1M398 184h1M388 185h1M393 185h1M412 185h1M368 187h1M427 187h1M374 188h1M384 188h1M403 188h1M387 189h2M418 190h1M378 191h1M406 191h1M394 192h1M423 192h1M426 192h1M369 193h1M413 193h1M366 194h1M386 194h1M366 195h1M385 195h1M409 195h1M419 195h1M377 196h1M403 196h1M363 197h1M382 197h1M417 197h1M373 198h1M387 198h1M415 198h1M364 199h1M369 199h1M382 199h1M395 199h1M407 199h1M371 200h1M369 201h1M372 201h1M375 201h1M383 201h1M412 201h1M358 202h1M377 202h1M391 202h1M395 202h1M409 202h1M434 202h1M448 202h1M352 203h1M368 204h1M370 204h2M375 204h1M403 204h1M435 204h1M445 204h1M366 205h2M353 206h1M362 206h1M410 206h1M425 206h1M433 206h1M351 207h1M357 207h1M365 207h1M381 207h1M383 207h1M388 207h1M417 207h1M433 207h1M332 208h1M339 208h1M346 208h1M352 208h1M357 208h1M361 208h1M365 208h1M384 208h1M416 208h1M425 208h1M342 209h1M355 209h1M358 209h2M361 209h3M371 209h1M424 209h1M356 210h1M359 210h1M364 210h1M375 210h1M413 210h1M346 211h1M355 211h1M357 211h1M359 211h3M370 211h1M372 211h1M413 211h1M415 211h1M359 212h1M372 212h1M389 212h1M415 212h1M423 212h2M430 212h1M432 212h1M348 213h1M351 213h1M356 213h3M360 213h1M364 213h1M372 213h1M384 213h1M391 213h1M401 213h1M403 213h1M409 213h1M430 213h1M358 214h2M361 214h1M364 214h2M371 214h1M385 214h1M390 214h1M403 214h2M425 214h1M439 214h1M351 215h1M354 215h1M359 215h2M368 215h1M412 215h1M421 215h1M322 216h1M329 216h1M344 216h2M356 216h1M361 216h1M364 216h1M376 216h1M379 216h2M386 216h1M391 216h1M397 216h1M405 216h1M408 216h1M420 216h1M423 216h1M432 216h1M436 216h1M340 217h1M350 217h1M358 217h3M367 217h1M373 217h1M376 217h1M387 217h2M401 217h1M408 217h1M414 217h2M423 217h1M342 218h1M353 218h1M356 218h1M358 218h2M364 218h1M366 218h1M370 218h1M376 218h2M379 218h2M390 218h2M403 218h3M413 218h1M415 218h2M420 218h1M438 218h2M352 219h1M355 219h1M366 219h1M392 219h1M395 219h1M398 219h1M402 219h1M407 219h2M410 219h2M413 219h1M426 219h1M362 220h1M368 220h2M373 220h1M382 220h1M389 220h1M393 220h1M399 220h1M402 220h1M413 220h1M419 220h1M421 220h2M427 220h1M352 221h1M355 221h1M376 221h1M395 221h1M398 221h1M400 221h1M404 221h5M411 221h1M413 221h1M426 221h1M446 221h1M324 222h1M349 222h1M358 222h2M362 222h1M371 222h1M379 222h1M384 222h1M391 222h1M395 222h2M403 222h1M405 222h3M409 222h2M415 222h1M417 222h1M420 222h1M430 222h3M336 223h1M355 223h2M359 223h1M361 223h1M372 223h2M381 223h1M383 223h5M393 223h2M396 223h1M399 223h1M402 223h2M405 223h1M407 223h2M411 223h2M416 223h2M421 223h1M423 223h1M434 223h1M346 224h1M349 224h1M351 224h2M360 224h1M371 224h1M388 224h1M392 224h1M394 224h1M397 224h3M401 224h2M405 224h1M408 224h2M414 224h1M419 224h1M426 224h1M433 224h1M342 225h1M368 225h3M372 225h1M378 225h3M384 225h3M389 225h3M394 225h3M398 225h9M408 225h2M411 225h2M416 225h1M421 225h1M430 225h1M450 225h1M363 226h1M367 226h1M370 226h2M373 226h1M379 226h1M382 226h2M388 226h2M391 226h1M394 226h1M396 226h3M400 226h1M403 226h1M405 226h5M411 226h1M413 226h1M416 226h2M419 226h1M422 226h2M425 226h1M437 226h1M317 227h1M334 227h1M353 227h1M359 227h1M374 227h1M376 227h2M384 227h1M386 227h2M390 227h1M392 227h1M394 227h2M397 227h3M401 227h3M407 227h3M414 227h1M416 227h1M419 227h1M433 227h1M337 228h1M357 228h1M360 228h1M370 228h1M374 228h2M378 228h1M380 228h3M386 228h2M389 228h6M396 228h4M401 228h1M404 228h2M407 228h2M411 228h2M414 228h5M420 228h1M432 228h1M445 228h1M320 229h1M322 229h1M344 229h1M357 229h1M363 229h4M374 229h1M377 229h2M381 229h5M387 229h1M390 229h17M410 229h4M415 229h2M418 229h1M421 229h3M432 229h1M439 229h1M450 229h1M322 230h1M353 230h1M359 230h1M369 230h1M372 230h2M379 230h1M381 230h1M384 230h3M388 230h17M406 230h5M412 230h1M415 230h8M430 230h5M317 231h1M348 231h2M364 231h1M366 231h1M371 231h1M374 231h7M382 231h5M388 231h28M419 231h1M423 231h1M430 231h1M325 232h1M353 232h1M357 232h1M361 232h2M370 232h1M374 232h1M378 232h2M381 232h27M409 232h4M414 232h1M416 232h2M421 232h1M423 232h2M431 232h1M322 233h1M340 233h1M360 233h1M367 233h2M371 233h4M376 233h5M383 233h28M412 233h1M414 233h1M417 233h3M421 233h1M434 233h1M323 234h1M337 234h1M358 234h2M362 234h1M371 234h2M375 234h2M378 234h5M384 234h30M415 234h1M417 234h1M420 234h2M427 234h3M438 234h1M322 235h1M339 235h2M346 235h1M362 235h1M366 235h4M373 235h43M419 235h4M424 235h1M353 236h1M359 236h1M363 236h1M367 236h2M370 236h2M376 236h37M415 236h5M422 236h2M427 236h1M429 236h1M431 236h1M435 236h1M350 237h1M352 237h1M354 237h1M365 237h1M368 237h1M372 237h2M375 237h1M377 237h33M411 237h4M416 237h2M419 237h2M423 237h1M425 237h1M435 237h1M323 238h1M344 238h1M349 238h1M354 238h1M360 238h1M365 238h1M367 238h1M369 238h1M372 238h44M417 238h3M426 238h1M349 239h1M351 239h2M356 239h1M358 239h1M366 239h1M370 239h44M415 239h1M417 239h1M419 239h2M428 239h1M450 239h1M320 240h1M330 240h1M355 240h2M358 240h1M364 240h4M369 240h3M373 240h37M412 240h3M418 240h2M421 240h2M342 241h1M356 241h1M360 241h3M364 241h1M366 241h1M368 241h1M372 241h37M410 241h1M412 241h2M415 241h2M419 241h1M421 241h1M424 241h1M434 241h1M330 242h1M355 242h1M363 242h1M367 242h44M412 242h2M415 242h2M426 242h1M431 242h1M336 243h2M347 243h1M356 243h1M360 243h2M365 243h2M368 243h44M418 243h1M425 243h2M321 244h1M330 244h1M345 244h1M349 244h1M351 244h1M354 244h4M359 244h1M361 244h2M366 244h5M372 244h37M411 244h4M416 244h1M421 244h1M320 245h1M325 245h1M334 245h1M343 245h1M346 245h1M353 245h1M355 245h2M358 245h1M360 245h4M365 245h4M371 245h37M410 245h1M415 245h1M436 245h1M438 245h1M330 246h1M343 246h1M350 246h3M356 246h2M363 246h2M366 246h2M369 246h9M379 246h25M405 246h1M407 246h4M412 246h3M418 246h2M433 246h1M344 247h1M346 247h1M348 247h1M354 247h1M365 247h1M367 247h37M406 247h2M413 247h2M416 247h1M326 248h1M338 248h1M351 248h1M355 248h1M357 248h1M360 248h1M364 248h40M405 248h1M408 248h1M412 248h2M416 248h1M334 249h1M350 249h1M352 249h3M357 249h3M362 249h1M365 249h6M372 249h21M394 249h7M402 249h1M406 249h1M408 249h7M417 249h2M421 249h1M426 249h1M434 249h1M316 250h1M344 250h3M348 250h1M352 250h1M355 250h1M357 250h1M360 250h5M366 250h3M370 250h9M380 250h21M402 250h2M405 250h3M410 250h1M415 250h1M418 250h1M421 250h1M320 251h1M327 251h1M330 251h1M332 251h1M334 251h1M340 251h1M343 251h1M347 251h1M350 251h1M358 251h1M360 251h1M363 251h4M368 251h2M371 251h21M393 251h2M396 251h2M399 251h1M402 251h3M408 251h1M413 251h1M418 251h1M445 251h1M318 252h1M338 252h1M347 252h1M354 252h1M356 252h2M361 252h3M365 252h2M369 252h4M374 252h10M386 252h8M395 252h1M398 252h4M404 252h2M407 252h3M411 252h2M414 252h2M427 252h1M444 252h1M320 253h3M328 253h1M333 253h1M335 253h1M337 253h1M339 253h2M345 253h2M350 253h4M356 253h1M358 253h2M362 253h2M365 253h3M370 253h3M374 253h6M381 253h4M386 253h4M393 253h4M398 253h2M410 253h1M414 253h1M316 254h2M325 254h1M327 254h1M341 254h1M346 254h1M351 254h1M362 254h3M367 254h1M369 254h6M376 254h1M378 254h1M380 254h2M383 254h6M391 254h4M396 254h1M398 254h2M403 254h3M413 254h1M316 255h1M323 255h1M327 255h2M337 255h2M343 255h1M348 255h1M351 255h2M354 255h1M357 255h1M360 255h1M364 255h3M370 255h1M373 255h5M379 255h2M382 255h6M389 255h1M391 255h4M398 255h6M411 255h1M316 256h1M320 256h1M326 256h1M333 256h1M336 256h2M340 256h1M348 256h1M350 256h1M359 256h2M363 256h1M365 256h1M368 256h4M373 256h3M378 256h5M384 256h1M387 256h5M399 256h1M404 256h1M417 256h1M437 256h1M316 257h1M319 257h1M328 257h1M331 257h1M333 257h1M345 257h1M348 257h1M353 257h1M357 257h1M359 257h1M362 257h1M365 257h6M372 257h2M375 257h1M377 257h4M383 257h1M386 257h1M390 257h1M393 257h1M395 257h3M399 257h1M402 257h1M406 257h1M408 257h1M424 257h1M430 257h1M316 258h1M323 258h1M328 258h1M331 258h1M336 258h1M339 258h1M342 258h1M344 258h4M353 258h2M359 258h3M364 258h1M370 258h1M372 258h3M376 258h5M382 258h4M390 258h3M396 258h2M399 258h1M401 258h1M403 258h1M410 258h1M416 258h1M420 258h1M316 259h2M320 259h1M324 259h1M326 259h1M329 259h1M339 259h2M344 259h1M346 259h1M350 259h1M353 259h3M358 259h7M366 259h1M369 259h1M371 259h4M376 259h1M378 259h1M380 259h1M382 259h1M389 259h1M394 259h1M396 259h2M411 259h1M420 259h1M423 259h1M426 259h1M316 260h1M318 260h1M320 260h3M325 260h1M329 260h1M331 260h2M337 260h1M340 260h1M342 260h1M348 260h1M350 260h1M357 260h2M360 260h1M363 260h1M365 260h1M369 260h1M375 260h1M377 260h1M380 260h1M393 260h3M401 260h1M403 260h3M408 260h1M431 260h1M316 261h2M321 261h2M327 261h2M332 261h2M343 261h2M346 261h2M352 261h1M355 261h1M357 261h2M360 261h2M363 261h3M375 261h1M380 261h1M387 261h1M390 261h3M394 261h1M401 261h3M429 261h1M316 262h1M318 262h2M321 262h1M324 262h1M326 262h1M328 262h1M331 262h1M333 262h1M335 262h1M339 262h1M342 262h1M346 262h1M348 262h1M350 262h1M353 262h1M358 262h2M364 262h1M366 262h1M368 262h1M370 262h4M376 262h1M381 262h3M386 262h1M389 262h2M394 262h1M396 262h1M403 262h1M406 262h1M408 262h1M410 262h1M420 262h1M318 263h1M320 263h1M322 263h1M325 263h3M330 263h1M332 263h4M338 263h5M345 263h1M351 263h1M353 263h1M356 263h1M370 263h1M374 263h1M383 263h1M385 263h1M387 263h2M391 263h1M398 263h1M413 263h1M415 263h1M316 264h1M321 264h1M323 264h1M326 264h1M328 264h1M333 264h2M336 264h1M342 264h1M345 264h1M348 264h3M357 264h1M368 264h2M372 264h2M375 264h1M377 264h2M382 264h1M387 264h3M393 264h2M444 264h1M316 265h3M322 265h1M324 265h1M326 265h2M332 265h2M335 265h5M341 265h2M344 265h1M346 265h1M350 265h1M354 265h1M363 265h1M365 265h1M367 265h2M373 265h1M375 265h5M381 265h1M383 265h3M400 265h1M415 265h1M316 266h1M319 266h1M324 266h1M329 266h1M331 266h1M334 266h2M337 266h2M340 266h4M347 266h2M350 266h2M354 266h1M357 266h1M359 266h2M367 266h2M375 266h1M378 266h1M380 266h1M383 266h2M387 266h2M392 266h1M410 266h1M426 266h1M316 267h2M323 267h2M327 267h2M331 267h2M337 267h1M339 267h1M342 267h2M345 267h2M348 267h3M352 267h3M356 267h3M360 267h2M363 267h1M367 267h2M373 267h2M377 267h1M381 267h1M383 267h1M388 267h1M391 267h1M428 267h1M316 268h2M320 268h4M329 268h1M331 268h4M337 268h1M341 268h1M343 268h2M346 268h2M351 268h1M353 268h3M361 268h2M364 268h1M369 268h1M372 268h1M375 268h1M377 268h1M380 268h2M384 268h1M401 268h1M405 268h1M411 268h1M432 268h1M316 269h1M322 269h4M327 269h3M331 269h2M334 269h1M336 269h1M338 269h1M340 269h4M346 269h2M349 269h2M353 269h1M355 269h1M357 269h1M359 269h2M364 269h1M369 269h1M372 269h1M380 269h1M386 269h1M389 269h1M396 269h1M407 269h1M414 269h1M435 269h1M316 270h2M322 270h2M325 270h1M327 270h1M330 270h6M340 270h1M342 270h1M344 270h1M346 270h3M354 270h1M356 270h2M360 270h2M368 270h1M370 270h2M375 270h1M381 270h1M383 270h1M387 270h1M404 270h1M424 270h1M449 270h1M316 271h1M320 271h1M323 271h3M327 271h1M329 271h1M331 271h2M335 271h1M339 271h3M346 271h6M354 271h3M359 271h2M365 271h1M368 271h1M370 271h2M373 271h3M378 271h1M383 271h1M388 271h1M395 271h1M398 271h1M316 272h4M323 272h8M332 272h3M339 272h1M342 272h1M345 272h1M347 272h1M349 272h4M355 272h2M358 272h1M361 272h1M380 272h1M387 272h1M421 272h1M316 273h1M319 273h1M321 273h2M325 273h1M327 273h1M330 273h1M333 273h1M338 273h2M341 273h1M343 273h2M346 273h2M349 273h3M354 273h3M359 273h1M366 273h2M371 273h1M378 273h2M382 273h1M384 273h1M389 273h1M392 273h1M394 273h1M399 273h1M412 273h1M422 273h1M316 274h1M320 274h3M324 274h8M335 274h2M339 274h3M343 274h9M355 274h1M357 274h4M367 274h1M370 274h1M374 274h3M378 274h1M384 274h2M388 274h2M394 274h1M423 274h1M427 274h1M316 275h4M322 275h3M327 275h2M331 275h2M335 275h2M338 275h1M342 275h7M354 275h1M356 275h2M361 275h1M364 275h1M371 275h1M375 275h1M378 275h1M380 275h1M383 275h1M386 275h2M390 275h1M397 275h2M400 275h1M402 275h1M316 276h1M320 276h7M328 276h2M332 276h3M337 276h2M340 276h2M343 276h6M352 276h1M358 276h1M360 276h2M363 276h1M372 276h1M374 276h1M383 276h2M395 276h2M398 276h1M401 276h1M407 276h1M418 276h1M316 277h2M319 277h2M322 277h3M327 277h4M332 277h2M336 277h2M339 277h2M342 277h1M344 277h2M347 277h3M351 277h1M353 277h5M359 277h1M363 277h1M367 277h1M370 277h1M372 277h3M377 277h1M379 277h2M383 277h1M385 277h1M389 277h3M402 277h1M430 277h1M316 278h1M320 278h6M327 278h2M330 278h2M333 278h3M338 278h2M341 278h4M346 278h3M350 278h1M352 278h3M356 278h4M363 278h3M372 278h2M375 278h3M384 278h2M387 278h2M392 278h1M395 278h1M402 278h2M417 278h1M316 279h1M321 279h5M332 279h2M335 279h1M337 279h4M342 279h4M348 279h2M351 279h1M356 279h3M362 279h1M364 279h2M368 279h3M378 279h1M380 279h1M385 279h1M388 279h1M390 279h1M396 279h1M434 279h1M316 280h2M320 280h2M323 280h3M329 280h5M335 280h1M337 280h5M343 280h1M346 280h1M348 280h3M353 280h4M360 280h1M363 280h1M366 280h1M368 280h2M373 280h1M375 280h1M381 280h4M387 280h1M389 280h1M393 280h1M407 280h1M424 280h1M316 281h12M330 281h1M333 281h1M335 281h3M339 281h1M343 281h1M346 281h1M348 281h3M352 281h3M356 281h1M358 281h4M363 281h3M368 281h2M374 281h1M378 281h1M381 281h3M388 281h2M391 281h2M398 281h1M410 281h1M413 281h1M422 281h1M316 282h3M320 282h2M324 282h4M330 282h1M332 282h1M334 282h1M337 282h1M339 282h1M341 282h2M344 282h1M351 282h1M354 282h1M356 282h1M359 282h2M364 282h1M367 282h1M369 282h1M377 282h2M381 282h3M385 282h1M391 282h1M395 282h1M442 282h1M316 283h1M318 283h2M321 283h7M329 283h2M332 283h1M334 283h1M336 283h1M338 283h5M344 283h2M347 283h1M349 283h2M352 283h2M355 283h1M357 283h2M360 283h4M368 283h1M370 283h1M375 283h4M380 283h1M386 283h1M389 283h1M398 283h1M316 284h4M326 284h2M334 284h1M336 284h6M344 284h1M346 284h3M352 284h2M362 284h1M364 284h1M368 284h1M372 284h2M379 284h1M382 284h1M385 284h1M389 284h1M397 284h2M432 284h1M434 284h1M316 285h3M320 285h4M325 285h7M333 285h3M337 285h1M339 285h3M344 285h2M347 285h1M349 285h1M351 285h3M355 285h1M357 285h1M359 285h1M362 285h2M366 285h1M368 285h1M371 285h3M375 285h1M379 285h2M382 285h1M391 285h1M393 285h1M396 285h1M411 285h1M316 286h4M323 286h3M328 286h1M330 286h2M335 286h1M337 286h2M340 286h2M345 286h1M348 286h1M350 286h6M359 286h1M361 286h4M367 286h1M369 286h1M372 286h1M379 286h1M389 286h4M394 286h1M396 286h1M406 286h1M416 286h1M316 287h3M320 287h1M322 287h3M327 287h1M330 287h3M334 287h3M341 287h2M347 287h5M358 287h4M365 287h1M369 287h1M378 287h2M383 287h2M388 287h2M392 287h1M395 287h1M410 287h1M316 288h2M319 288h1M322 288h12M338 288h3M342 288h1M348 288h1M350 288h2M355 288h1M361 288h1M365 288h3M371 288h1M375 288h2M378 288h1M380 288h1M385 288h2M409 288h2M316 289h5M322 289h2M326 289h1M328 289h3M334 289h2M337 289h4M342 289h2M345 289h1M347 289h3M352 289h1M354 289h1M359 289h1M361 289h1M367 289h1M371 289h1M376 289h1M379 289h1M388 289h1M390 289h2M395 289h1M398 289h1M400 289h1M407 289h1M413 289h1M415 289h1M423 289h1M446 289h1M316 290h3M320 290h1M322 290h2M325 290h1M327 290h7M335 290h1M337 290h6M345 290h3M349 290h1M354 290h1M356 290h1M358 290h2M361 290h4M368 290h1M373 290h1M377 290h1M380 290h1M382 290h1M391 290h1M395 290h1M399 290h1M316 291h1M318 291h3M322 291h12M335 291h1M341 291h4M346 291h1M348 291h1M353 291h1M356 291h2M360 291h1M363 291h1M368 291h1M370 291h1M377 291h1M379 291h1M385 291h2M418 291h1M425 291h1M316 292h3M321 292h1M323 292h3M329 292h2M332 292h1M334 292h2M337 292h1M339 292h1M342 292h1M344 292h1M346 292h1M349 292h1M361 292h1M374 292h1M379 292h1M383 292h1M406 292h1M415 292h1M437 292h1M316 293h58M375 293h5M381 293h1M383 293h8M392 293h2M395 293h4M408 293h1M413 293h2M418 293h1M420 293h1M427 293h2M430 293h1M433 293h1M440 293h1M446 293h1"/>
<path class="axl" d="M316 294.1V162.4"/>
<path class="ax" d="M313 162.4H451.2V294.1"/>
<path d="M313 294.1H451.7" stroke="#444" stroke-width="1.1" fill="none"/>
<path class="gt" d="M316 182.9H451.2M359.5 162.4V294.1"/>
<path class="ax" d="M316 294.1v3M349.8 294.1v3M383.6 294.1v3M417.4 294.1v3M451.2 294.1v3M313 195.3h3M313 228.2h3M313 261.2h3"/>
<g transform="translate(309.2 294.1) rotate(-90) scale(1 0.88)"><text class="tk" x="2.0" y="0" text-anchor="end">10</text><text class="ts" x="3.4" y="-4.4" transform="scale(1 1.12)">0</text></g>
<g transform="translate(309.2 261.2) rotate(-90) scale(1 0.88)"><text class="tk" x="2.0" y="0" text-anchor="end">10</text><text class="ts" x="3.4" y="-4.4" transform="scale(1 1.12)">1</text></g>
<g transform="translate(309.2 228.2) rotate(-90) scale(1 0.88)"><text class="tk" x="2.0" y="0" text-anchor="end">10</text><text class="ts" x="3.4" y="-4.4" transform="scale(1 1.12)">2</text></g>
<g transform="translate(309.2 195.3) rotate(-90) scale(1 0.88)"><text class="tk" x="2.0" y="0" text-anchor="end">10</text><text class="ts" x="3.4" y="-4.4" transform="scale(1 1.12)">3</text></g>
<g transform="translate(309.2 162.4) rotate(-90) scale(1 0.88)"><text class="tk" x="2.0" y="0" text-anchor="end">10</text><text class="ts" x="3.4" y="-4.4" transform="scale(1 1.12)">4</text></g>
<text class="t9" x="334.3" y="180.3" text-anchor="end">0%</text>
<text class="t9" x="446.6" y="180.3" text-anchor="end">7%</text>
<text class="t9" x="317.6" y="191.9">39%</text>
<text class="t9" x="447.2" y="191.9" text-anchor="end">54%</text>
<text class="lab" x="454" y="233.3">MSCV-BM</text>
</g>
<g id="scat3">
<path class="dots" filter="url(#soft)" transform="translate(0 0.5)" d="M400 318h1M408 318h3M414 318h3M418 318h1M421 318h2M427 318h2M430 318h1M433 318h1M439 318h1M445 318h1M400 319h1M408 319h1M414 319h2M417 319h7M426 319h6M433 319h3M437 319h1M439 319h1M386 320h1M400 320h1M402 320h2M406 320h1M408 320h1M412 320h1M416 320h9M426 320h3M430 320h1M432 320h6M439 320h3M444 320h1M396 321h1M407 321h1M409 321h7M417 321h17M435 321h1M438 321h1M441 321h2M390 322h1M395 322h1M397 322h1M399 322h1M406 322h5M413 322h27M441 322h1M392 323h1M403 323h2M407 323h1M409 323h1M413 323h1M415 323h1M419 323h4M424 323h6M432 323h1M434 323h3M391 324h3M395 324h1M400 324h5M408 324h1M413 324h1M419 324h1M426 324h1M428 324h2M431 324h1M437 324h1M384 325h1M395 325h1M397 325h1M401 325h1M403 325h1M405 325h1M408 325h1M411 325h1M413 325h1M419 325h1M378 326h2M386 326h1M389 326h1M394 326h2M402 326h1M404 326h1M418 326h1M383 327h1M391 327h1M393 327h1M400 327h1M402 327h1M406 327h1M408 327h1M410 327h1M415 327h1M383 328h1M385 328h1M390 328h1M395 328h1M399 328h2M402 328h1M433 328h1M367 329h1M381 329h1M385 329h1M392 329h1M402 329h1M416 329h1M377 330h1M383 330h1M389 330h1M394 330h1M396 330h5M403 330h2M409 330h1M418 330h1M376 331h1M382 331h1M389 331h1M391 331h1M380 332h1M382 332h1M385 332h2M404 332h1M389 333h1M380 334h1M385 334h1M396 334h1M398 334h1M392 335h1M374 336h1M382 336h1M387 336h1M376 337h1M392 337h1M387 338h1M398 339h1M361 340h1M387 341h1M366 342h1M386 342h1M395 342h1M405 343h1M391 344h1M404 344h1M409 344h1M362 345h1M388 345h1M390 345h2M398 345h1M412 345h1M381 346h1M374 347h1M386 347h3M395 347h1M400 347h1M407 347h1M411 347h1M378 348h1M412 348h1M426 348h2M365 349h1M374 349h1M381 349h1M419 349h1M382 350h1M386 350h1M397 350h1M376 351h1M381 351h1M391 351h1M414 351h1M374 352h1M379 352h3M407 352h1M423 352h1M373 353h1M401 353h1M413 353h1M417 353h1M367 354h1M390 354h1M423 354h1M434 354h1M360 355h1M390 355h1M381 356h1M385 356h1M391 356h1M395 356h1M343 357h1M375 357h1M377 357h1M386 357h1M391 357h1M331 358h1M362 358h1M365 358h1M368 358h2M372 358h2M376 358h1M402 358h1M437 358h1M359 359h1M370 359h2M373 359h1M375 359h1M382 359h1M406 359h1M335 360h1M375 360h1M377 360h1M408 360h1M323 361h1M330 361h1M375 361h2M391 361h1M420 361h1M426 361h1M346 362h1M363 362h1M366 362h1M377 362h1M379 362h1M382 362h1M403 362h1M413 362h1M417 362h1M428 362h1M345 363h1M347 363h1M354 363h1M405 363h2M425 363h1M437 363h2M349 364h1M352 364h2M362 364h1M366 364h1M372 364h1M377 364h1M379 364h1M398 364h1M401 364h1M419 364h1M422 364h1M431 364h1M373 365h1M400 365h1M333 366h1M370 366h1M373 366h1M376 366h1M400 366h1M408 366h1M410 366h1M412 366h1M417 366h1M419 366h1M359 367h1M361 367h1M369 367h1M375 367h1M380 367h1M399 367h1M403 367h1M407 367h1M411 367h1M413 367h1M425 367h1M440 367h1M333 368h2M360 368h1M364 368h1M369 368h1M398 368h1M410 368h1M413 368h2M433 368h1M350 369h1M357 369h1M365 369h1M377 369h1M403 369h1M415 369h2M419 369h3M429 369h2M432 369h1M343 370h3M369 370h1M374 370h1M393 370h1M407 370h2M413 370h5M434 370h1M318 371h1M329 371h1M361 371h1M363 371h1M370 371h1M374 371h1M388 371h1M399 371h1M401 371h1M404 371h1M407 371h1M409 371h2M414 371h1M419 371h1M423 371h1M425 371h1M440 371h1M358 372h1M368 372h1M382 372h1M384 372h1M388 372h1M391 372h1M393 372h1M402 372h1M406 372h1M409 372h2M412 372h1M427 372h1M324 373h1M336 373h1M352 373h1M364 373h2M390 373h1M395 373h2M407 373h1M410 373h1M412 373h3M416 373h1M418 373h2M421 373h1M423 373h1M426 373h1M329 374h1M363 374h1M366 374h1M374 374h1M386 374h1M388 374h1M392 374h1M403 374h1M405 374h1M407 374h1M410 374h4M419 374h1M428 374h1M431 374h1M336 375h1M349 375h1M372 375h1M380 375h1M387 375h1M391 375h4M398 375h1M402 375h3M406 375h1M408 375h4M414 375h1M417 375h1M423 375h1M425 375h1M342 376h1M347 376h1M354 376h1M356 376h1M381 376h1M387 376h1M390 376h1M395 376h2M398 376h2M404 376h1M406 376h3M410 376h1M414 376h1M417 376h2M420 376h1M422 376h1M424 376h1M431 376h1M337 377h1M363 377h2M367 377h1M383 377h1M387 377h2M390 377h1M392 377h4M401 377h1M404 377h2M408 377h1M410 377h1M414 377h5M420 377h1M423 377h1M434 377h1M439 377h1M342 378h1M355 378h2M363 378h2M369 378h3M381 378h3M387 378h1M391 378h5M397 378h1M399 378h2M402 378h2M405 378h3M410 378h3M414 378h2M422 378h1M427 378h1M323 379h1M330 379h1M346 379h1M357 379h1M361 379h1M373 379h1M384 379h1M388 379h1M390 379h2M393 379h1M395 379h1M397 379h2M400 379h2M403 379h2M406 379h1M409 379h6M416 379h4M423 379h1M425 379h1M428 379h1M431 379h1M437 379h1M439 379h2M350 380h1M358 380h1M377 380h1M380 380h1M384 380h2M389 380h2M392 380h1M394 380h6M401 380h5M407 380h6M414 380h3M419 380h3M434 380h1M333 381h1M357 381h1M367 381h1M372 381h1M390 381h2M393 381h7M401 381h4M406 381h3M410 381h2M413 381h1M415 381h5M423 381h1M430 381h1M432 381h1M324 382h1M333 382h1M353 382h1M381 382h1M383 382h8M392 382h17M410 382h4M416 382h3M421 382h1M424 382h1M343 383h1M381 383h1M385 383h7M393 383h6M400 383h4M405 383h5M412 383h1M414 383h3M419 383h1M428 383h1M337 384h1M364 384h1M376 384h1M379 384h1M384 384h2M387 384h11M399 384h11M411 384h2M416 384h1M423 384h1M427 384h1M340 385h1M344 385h1M353 385h1M370 385h1M375 385h1M378 385h1M382 385h2M385 385h2M388 385h24M415 385h1M420 385h1M422 385h3M335 386h1M364 386h1M370 386h1M376 386h2M380 386h4M386 386h17M404 386h1M406 386h4M411 386h3M419 386h2M422 386h2M332 387h1M339 387h1M351 387h1M353 387h1M363 387h1M368 387h1M370 387h1M376 387h2M382 387h2M385 387h1M387 387h1M389 387h15M406 387h4M411 387h1M413 387h1M419 387h1M370 388h3M374 388h2M380 388h2M384 388h6M391 388h17M410 388h4M423 388h1M343 389h1M358 389h1M374 389h1M376 389h1M379 389h1M381 389h2M384 389h14M399 389h1M401 389h2M404 389h8M413 389h2M417 389h1M423 389h2M427 389h1M341 390h2M346 390h2M355 390h1M362 390h1M373 390h1M376 390h3M380 390h1M382 390h3M386 390h9M396 390h3M400 390h2M403 390h5M410 390h2M413 390h2M416 390h1M322 391h1M325 391h1M355 391h2M363 391h1M367 391h1M371 391h2M375 391h1M378 391h1M381 391h1M383 391h1M385 391h8M394 391h13M408 391h1M411 391h1M343 392h1M354 392h1M370 392h1M372 392h6M380 392h3M385 392h1M387 392h6M394 392h2M397 392h1M399 392h3M404 392h3M408 392h1M347 393h1M351 393h1M361 393h1M363 393h1M366 393h2M370 393h1M373 393h2M378 393h3M383 393h2M386 393h7M395 393h3M399 393h4M404 393h1M406 393h1M408 393h1M411 393h1M414 393h2M417 393h1M334 394h1M348 394h1M360 394h1M365 394h1M367 394h1M375 394h5M381 394h2M385 394h5M391 394h3M395 394h1M397 394h4M403 394h1M405 394h1M407 394h2M414 394h1M423 394h1M316 395h1M352 395h1M359 395h2M364 395h1M368 395h1M370 395h3M375 395h3M379 395h8M388 395h6M396 395h4M406 395h1M408 395h2M414 395h1M416 395h2M421 395h1M436 395h1M331 396h1M339 396h1M343 396h1M357 396h1M362 396h1M364 396h1M367 396h1M369 396h1M372 396h1M374 396h2M377 396h4M382 396h3M387 396h2M391 396h3M396 396h2M400 396h1M404 396h2M340 397h1M355 397h1M361 397h1M364 397h1M366 397h2M369 397h2M373 397h2M376 397h1M378 397h2M383 397h2M386 397h8M396 397h2M399 397h3M405 397h2M408 397h1M325 398h1M342 398h1M345 398h2M349 398h1M360 398h1M363 398h1M365 398h1M367 398h1M369 398h2M372 398h1M374 398h1M378 398h3M382 398h3M386 398h6M393 398h1M395 398h1M397 398h1M400 398h1M407 398h1M316 399h1M336 399h1M350 399h1M354 399h1M358 399h1M362 399h1M365 399h1M368 399h1M370 399h3M375 399h2M380 399h6M388 399h2M395 399h3M401 399h2M405 399h1M407 399h1M415 399h1M316 400h1M319 400h1M339 400h3M347 400h1M358 400h2M364 400h2M368 400h2M372 400h2M375 400h5M381 400h2M384 400h1M387 400h2M390 400h2M393 400h1M402 400h2M410 400h1M415 400h1M321 401h1M327 401h1M332 401h1M338 401h1M342 401h1M345 401h3M352 401h4M361 401h1M363 401h2M367 401h1M369 401h4M374 401h1M376 401h1M379 401h2M382 401h1M384 401h1M387 401h5M393 401h1M395 401h1M397 401h1M399 401h1M403 401h1M407 401h1M410 401h1M414 401h1M422 401h1M426 401h1M316 402h1M318 402h2M330 402h1M336 402h1M341 402h1M343 402h1M347 402h1M350 402h1M353 402h1M355 402h1M360 402h3M370 402h1M372 402h1M374 402h1M381 402h1M383 402h1M385 402h1M388 402h2M391 402h1M399 402h1M408 402h1M410 402h1M320 403h1M330 403h2M333 403h1M336 403h1M341 403h1M354 403h1M356 403h2M359 403h1M365 403h1M367 403h1M370 403h1M372 403h1M376 403h1M378 403h6M386 403h1M388 403h1M390 403h2M393 403h1M395 403h1M316 404h1M318 404h1M323 404h1M328 404h1M333 404h1M335 404h1M339 404h1M342 404h3M346 404h1M350 404h1M352 404h1M354 404h1M362 404h1M365 404h2M368 404h2M372 404h1M374 404h2M378 404h1M381 404h3M385 404h2M394 404h2M398 404h1M402 404h1M405 404h1M408 404h1M426 404h2M316 405h1M323 405h3M335 405h1M337 405h1M340 405h1M344 405h1M347 405h2M352 405h1M357 405h2M360 405h1M363 405h1M365 405h1M367 405h1M370 405h1M372 405h1M374 405h1M380 405h2M383 405h1M390 405h1M393 405h2M397 405h1M410 405h1M434 405h1M316 406h1M318 406h1M321 406h1M324 406h1M326 406h1M333 406h2M346 406h2M349 406h1M351 406h3M357 406h2M360 406h1M362 406h3M368 406h2M372 406h2M376 406h1M379 406h1M382 406h2M385 406h2M401 406h1M409 406h1M418 406h1M316 407h1M320 407h1M323 407h1M327 407h1M330 407h1M333 407h4M339 407h1M345 407h1M351 407h1M353 407h7M361 407h1M364 407h4M376 407h2M379 407h1M382 407h1M384 407h2M387 407h1M390 407h1M395 407h1M316 408h2M319 408h2M322 408h1M325 408h3M329 408h1M331 408h1M333 408h1M336 408h1M341 408h2M344 408h1M346 408h1M349 408h1M352 408h1M354 408h1M356 408h1M358 408h2M361 408h1M364 408h3M368 408h3M375 408h2M378 408h1M380 408h1M384 408h1M388 408h1M395 408h1M399 408h1M316 409h2M319 409h2M322 409h2M325 409h2M334 409h1M337 409h2M340 409h3M347 409h2M350 409h1M352 409h1M354 409h1M358 409h1M360 409h4M365 409h3M369 409h1M375 409h3M380 409h2M387 409h1M390 409h1M405 409h1M412 409h1M316 410h2M320 410h6M331 410h1M333 410h2M337 410h4M345 410h2M351 410h1M353 410h1M359 410h5M367 410h3M373 410h1M377 410h1M382 410h1M385 410h1M389 410h1M398 410h1M413 410h1M425 410h1M316 411h5M322 411h1M324 411h2M327 411h3M331 411h3M336 411h1M338 411h1M340 411h6M347 411h1M349 411h3M353 411h4M358 411h3M364 411h1M366 411h3M370 411h2M373 411h1M376 411h4M386 411h1M391 411h1M400 411h1M316 412h3M320 412h3M325 412h3M329 412h1M332 412h3M337 412h2M341 412h1M343 412h1M345 412h2M350 412h1M353 412h1M355 412h1M360 412h2M364 412h3M368 412h4M376 412h1M379 412h2M387 412h1M391 412h1M420 412h1M430 412h1M316 413h2M319 413h3M323 413h6M330 413h1M332 413h3M336 413h3M340 413h7M350 413h1M352 413h1M354 413h3M358 413h2M361 413h1M363 413h1M365 413h1M368 413h1M370 413h1M377 413h1M387 413h1M399 413h1M425 413h1M316 414h3M323 414h1M325 414h3M331 414h2M334 414h9M344 414h1M347 414h1M350 414h3M354 414h3M358 414h1M360 414h3M365 414h1M368 414h1M370 414h3M376 414h1M385 414h1M394 414h1M316 415h11M328 415h3M332 415h1M335 415h12M348 415h1M350 415h2M353 415h1M355 415h1M357 415h1M361 415h1M363 415h1M365 415h3M369 415h1M371 415h1M379 415h1M381 415h1M396 415h1M409 415h1M316 416h1M318 416h11M331 416h9M341 416h5M347 416h1M349 416h2M352 416h2M358 416h1M360 416h3M369 416h1M371 416h1M374 416h1M382 416h1M396 416h2M415 416h1M439 416h1M449 416h1M316 417h6M323 417h10M334 417h4M340 417h4M345 417h11M357 417h1M359 417h1M361 417h3M368 417h1M373 417h1M375 417h1M377 417h1M421 417h1M316 418h3M320 418h2M323 418h2M327 418h5M333 418h15M349 418h2M353 418h1M356 418h1M358 418h2M361 418h3M365 418h2M373 418h1M376 418h1M380 418h1M389 418h1M393 418h1M399 418h1M412 418h1M316 419h1M318 419h2M321 419h15M337 419h1M339 419h2M343 419h2M347 419h3M351 419h3M355 419h1M361 419h2M364 419h1M368 419h1M375 419h1M378 419h1M384 419h1M386 419h1M394 419h1M399 419h2M406 419h1M433 419h1M316 420h14M331 420h3M335 420h3M339 420h3M343 420h1M345 420h5M351 420h4M356 420h3M360 420h1M364 420h4M369 420h1M374 420h2M378 420h1M390 420h2M400 420h1M427 420h1M316 421h1M319 421h18M338 421h1M340 421h7M348 421h7M358 421h1M361 421h4M366 421h3M371 421h1M375 421h1M377 421h2M381 421h2M384 421h1M391 421h1M395 421h1M316 422h9M327 422h5M333 422h4M338 422h2M341 422h1M344 422h2M347 422h2M350 422h3M354 422h1M356 422h1M358 422h1M361 422h2M366 422h1M370 422h1M379 422h2M389 422h1M393 422h1M418 422h1M431 422h1M316 423h1M318 423h10M329 423h5M335 423h5M341 423h2M344 423h6M352 423h1M354 423h1M357 423h3M361 423h1M365 423h1M368 423h1M384 423h1M386 423h1M391 423h3M396 423h1M406 423h1M409 423h2M316 424h15M333 424h2M336 424h7M344 424h3M349 424h9M359 424h3M364 424h2M369 424h1M375 424h1M378 424h1M382 424h1M390 424h3M408 424h1M418 424h1M443 424h1M316 425h11M328 425h7M338 425h14M354 425h1M356 425h1M358 425h1M360 425h4M367 425h1M372 425h1M376 425h1M383 425h1M386 425h1M395 425h1M424 425h1M316 426h27M344 426h2M347 426h3M352 426h1M355 426h1M357 426h1M359 426h1M361 426h2M370 426h1M382 426h2M389 426h1M393 426h1M397 426h1M316 427h2M319 427h4M324 427h3M328 427h11M340 427h7M348 427h3M354 427h2M358 427h1M367 427h2M376 427h1M379 427h1M387 427h2M393 427h1M400 427h1M410 427h1M316 428h1M319 428h9M329 428h13M344 428h3M348 428h2M351 428h1M353 428h3M357 428h5M367 428h1M370 428h1M379 428h1M381 428h1M386 428h1M388 428h1M393 428h1M428 428h1M445 428h1M316 429h4M321 429h11M334 429h2M337 429h2M340 429h9M351 429h9M363 429h3M367 429h1M369 429h1M376 429h1M378 429h1M384 429h1M386 429h1M393 429h1M398 429h1M400 429h1M407 429h1M414 429h1M316 430h9M326 430h1M328 430h1M330 430h1M332 430h1M334 430h2M338 430h1M340 430h1M342 430h1M345 430h2M348 430h8M357 430h3M364 430h3M370 430h1M372 430h1M374 430h1M379 430h2M384 430h1M404 430h1M316 431h7M324 431h5M332 431h3M336 431h5M342 431h3M346 431h2M349 431h1M352 431h1M355 431h2M361 431h3M369 431h1M374 431h1M398 431h1M421 431h1M316 432h5M322 432h12M335 432h12M348 432h1M351 432h2M357 432h3M361 432h1M365 432h3M373 432h2M376 432h1M378 432h1M399 432h1M316 433h3M322 433h1M324 433h2M327 433h3M331 433h14M346 433h3M350 433h2M353 433h2M359 433h3M366 433h3M376 433h2M381 433h1M385 433h1M390 433h2M399 433h2M406 433h1M431 433h1M316 434h1M319 434h18M338 434h2M341 434h3M345 434h1M347 434h2M350 434h2M354 434h4M359 434h2M364 434h3M386 434h1M390 434h1M395 434h1M397 434h1M316 435h1M318 435h31M350 435h1M353 435h2M356 435h1M360 435h1M365 435h2M372 435h1M376 435h1M378 435h1M380 435h1M389 435h2M409 435h1M411 435h1M436 435h1M316 436h11M328 436h2M332 436h8M341 436h2M344 436h1M346 436h2M349 436h1M351 436h1M359 436h1M361 436h1M366 436h2M376 436h1M388 436h1M391 436h2M396 436h2M399 436h1M316 437h19M336 437h3M340 437h13M355 437h1M359 437h1M361 437h1M364 437h1M370 437h1M373 437h1M375 437h2M379 437h1M383 437h1M388 437h1M394 437h1M412 437h1M316 438h6M323 438h3M327 438h6M334 438h13M349 438h2M359 438h1M366 438h1M377 438h1M383 438h1M389 438h1M392 438h2M395 438h1M316 439h19M336 439h1M338 439h3M342 439h1M344 439h3M349 439h1M353 439h2M356 439h1M358 439h1M360 439h1M363 439h1M369 439h2M377 439h1M379 439h2M391 439h1M394 439h2M402 439h1M413 439h1M430 439h1M441 439h1M316 440h2M320 440h7M328 440h1M330 440h9M340 440h5M346 440h5M352 440h1M354 440h2M357 440h1M361 440h1M363 440h1M366 440h2M369 440h1M385 440h2M388 440h1M397 440h1M414 440h1M423 440h1M316 441h5M322 441h10M333 441h2M336 441h3M340 441h9M350 441h2M353 441h1M358 441h1M361 441h1M363 441h1M365 441h1M373 441h2M376 441h1M378 441h2M381 441h1M387 441h1M396 441h1M405 441h1M442 441h1M316 442h1M318 442h3M322 442h5M328 442h12M341 442h2M344 442h5M350 442h1M352 442h2M356 442h1M362 442h1M364 442h1M366 442h2M371 442h1M374 442h2M387 442h1M393 442h1M420 442h1M316 443h10M327 443h5M333 443h1M336 443h15M353 443h1M355 443h1M358 443h1M360 443h1M363 443h1M389 443h1M401 443h1M316 444h2M319 444h6M326 444h6M333 444h3M338 444h8M348 444h4M354 444h1M357 444h1M359 444h1M363 444h1M365 444h3M369 444h2M373 444h1M375 444h1M382 444h2M386 444h1M389 444h2M401 444h2M418 444h1M316 445h13M330 445h1M332 445h1M334 445h1M337 445h8M346 445h2M351 445h3M355 445h1M357 445h1M361 445h1M367 445h1M371 445h1M376 445h1M386 445h2M392 445h2M395 445h1M397 445h1M400 445h1M405 445h1M413 445h1M316 446h2M319 446h7M328 446h5M335 446h3M339 446h4M344 446h4M349 446h1M353 446h1M359 446h1M364 446h2M370 446h1M372 446h1M375 446h2M378 446h1M385 446h1M394 446h1M396 446h1M316 447h67M384 447h4M389 447h2M392 447h5M400 447h1M402 447h2M412 447h1M414 447h2M417 447h2M422 447h1M426 447h1M431 447h1M433 447h1M440 447h1"/>
<path class="axl" d="M316 448.2V316.7"/>
<path class="ax" d="M313 316.7H451.2V448.2"/>
<path d="M313 448.2H451.7" stroke="#444" stroke-width="1.1" fill="none"/>
<path class="gt" d="M316 337H451.2M359.5 316.7V448.2"/>
<path class="ax" d="M316 448.2v3M349.8 448.2v3M383.6 448.2v3M417.4 448.2v3M451.2 448.2v3M313 349.6h3M313 382.4h3M313 415.3h3"/>
<g transform="translate(309.2 448.2) rotate(-90) scale(1 0.88)"><text class="tk" x="2.0" y="0" text-anchor="end">10</text><text class="ts" x="3.4" y="-4.4" transform="scale(1 1.12)">0</text></g>
<g transform="translate(309.2 415.3) rotate(-90) scale(1 0.88)"><text class="tk" x="2.0" y="0" text-anchor="end">10</text><text class="ts" x="3.4" y="-4.4" transform="scale(1 1.12)">1</text></g>
<g transform="translate(309.2 382.4) rotate(-90) scale(1 0.88)"><text class="tk" x="2.0" y="0" text-anchor="end">10</text><text class="ts" x="3.4" y="-4.4" transform="scale(1 1.12)">2</text></g>
<g transform="translate(309.2 349.6) rotate(-90) scale(1 0.88)"><text class="tk" x="2.0" y="0" text-anchor="end">10</text><text class="ts" x="3.4" y="-4.4" transform="scale(1 1.12)">3</text></g>
<g transform="translate(309.2 316.7) rotate(-90) scale(1 0.88)"><text class="tk" x="2.0" y="0" text-anchor="end">10</text><text class="ts" x="3.4" y="-4.4" transform="scale(1 1.12)">4</text></g>
<text class="t9" x="334.3" y="334.4" text-anchor="end">0%</text>
<text class="t9" x="446.6" y="334.4" text-anchor="end">4%</text>
<text class="t9" x="317.6" y="346">71%</text>
<text class="t9" x="447.2" y="346" text-anchor="end">25%</text>
<text class="lab" x="454" y="387.8">TEL2-BM</text>
</g>
<text class="tk" x="318" y="465.6" text-anchor="end">10</text>
<text class="ts" x="318.9" y="460.9">0</text>
<text class="tk" x="351.8" y="465.6" text-anchor="end">10</text>
<text class="ts" x="352.7" y="460.9">1</text>
<text class="tk" x="385.6" y="465.6" text-anchor="end">10</text>
<text class="ts" x="386.5" y="460.9">2</text>
<text class="tk" x="419.4" y="465.6" text-anchor="end">10</text>
<text class="ts" x="420.3" y="460.9">3</text>
<text class="tk" x="453.2" y="465.6" text-anchor="end">10</text>
<text class="ts" x="454.1" y="460.9">4</text>
<text class="big" x="301.4" y="483.4" textLength="161.8" lengthAdjust="spacing">Annexin-V Fluorescence</text>
<text class="big" transform="translate(288.9 328.6) rotate(-90)" textLength="198.4" lengthAdjust="spacing">Propidium Iodide Fluorescence</text>
</svg>
</body>
</html>
